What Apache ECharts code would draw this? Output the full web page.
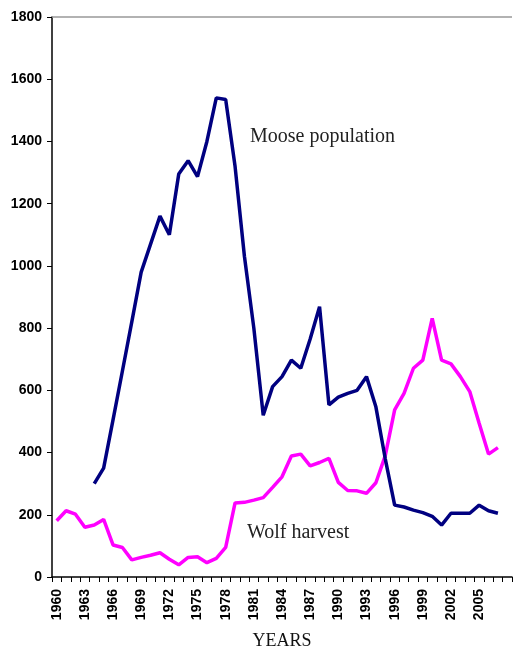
<!DOCTYPE html>
<html>
<head>
<meta charset="utf-8">
<script src="https://cdn.jsdelivr.net/npm/echarts@6/dist/echarts.min.js"></script>
<style>
html,body{margin:0;padding:0;background:#fff;}
#chart{width:513px;height:650px;}
</style>
</head>
<body>
<div id="chart"></div>
<script>
// Years (last category is an empty slot at the end of the axis)
var years = ['1960','1961','1962','1963','1964','1965','1966','1967','1968','1969',
  '1970','1971','1972','1973','1974','1975','1976','1977','1978','1979',
  '1980','1981','1982','1983','1984','1985','1986','1987','1988','1989',
  '1990','1991','1992','1993','1994','1995','1996','1997','1998','1999',
  '2000','2001','2002','2003','2004','2005','2006','2007','2008'];

var moosePopulation = [null,null,null,null,300,350,505,662,820,980,
  1070,1160,1100,1295,1338,1287,1400,1540,1535,1320,
  1030,800,520,612,644,697,671,765,869,553,
  578,590,600,644,547,380,231,225,215,207,
  195,167,205,205,205,231,213,205,null];

var wolfHarvest = [181,213,202,160,167,185,103,95,55,63,
  70,78,57,39,63,65,46,60,95,238,
  240,247,255,288,322,389,395,357,368,381,
  304,278,277,269,303,390,537,590,671,697,
  831,697,685,644,596,494,395,416,null];

var yTicks = {min: 0, max: 1800, interval: 200};

var chart = echarts.init(document.getElementById('chart'), null, {renderer: 'canvas'});
chart.setOption({
  animation: false,
  backgroundColor: '#ffffff',
  grid: {left: 52, right: 1, top: 17, bottom: 73, containLabel: false, outerBoundsMode: 'none'},
  xAxis: {
    type: 'category',
    data: years,
    boundaryGap: true,
    axisLine: {lineStyle: {color: '#000', width: 1.5}},
    axisTick: {show: true, interval: 0, length: 5, lineStyle: {color: '#000', width: 1}},
    axisLabel: {
      rotate: 90,
      interval: function (i) { return i % 3 === 0 && i < years.length - 1; },
      margin: 12,
      color: '#000',
      fontFamily: 'Liberation Sans, Arial, sans-serif',
      fontWeight: 'bold',
      fontSize: 14
    },
    splitLine: {show: false},
    name: 'YEARS',
    nameLocation: 'middle',
    nameGap: 64,
    nameMoveOverlap: false,
    nameTextStyle: {
      fontFamily: 'Liberation Serif, Times New Roman, serif',
      fontSize: 18,
      color: '#111',
      verticalAlign: 'middle'
    }
  },
  yAxis: {
    type: 'value',
    min: yTicks.min,
    max: yTicks.max,
    interval: yTicks.interval,
    axisLine: {show: true, lineStyle: {color: '#000', width: 1.5}},
    axisTick: {show: true, length: 5, lineStyle: {color: '#000', width: 1}},
    axisLabel: {
      margin: 10,
      color: '#000',
      fontFamily: 'Liberation Sans, Arial, sans-serif',
      fontWeight: 'bold',
      fontSize: 14,
      formatter: function (v) { return String(v); }
    },
    splitLine: {show: false}
  },
  series: [
    {
      name: 'Moose population',
      type: 'line',
      data: moosePopulation,
      symbol: 'none',
      connectNulls: false,
      lineStyle: {color: '#000080', width: 3.5},
      itemStyle: {color: '#000080'},
      z: 3,
      markLine: {
        silent: true,
        symbol: 'none',
        label: {show: false},
        lineStyle: {color: '#999', width: 1.5, type: 'solid'},
        data: [{yAxis: yTicks.max}]
      }
    },
    {
      name: 'Wolf harvest',
      type: 'line',
      data: wolfHarvest,
      symbol: 'none',
      connectNulls: false,
      lineStyle: {color: '#ff00ff', width: 3.5},
      itemStyle: {color: '#ff00ff'},
      z: 2
    }
  ],
  graphic: [
    {
      type: 'text',
      left: 250,
      top: 127,
      style: {
        text: 'Moose population',
        font: '20px "Liberation Serif", "Times New Roman", serif',
        fill: '#222'
      }
    },
    {
      type: 'text',
      left: 247,
      top: 523,
      style: {
        text: 'Wolf harvest',
        font: '20px "Liberation Serif", "Times New Roman", serif',
        fill: '#222'
      }
    }
  ]
});
</script>
</body>
</html>
